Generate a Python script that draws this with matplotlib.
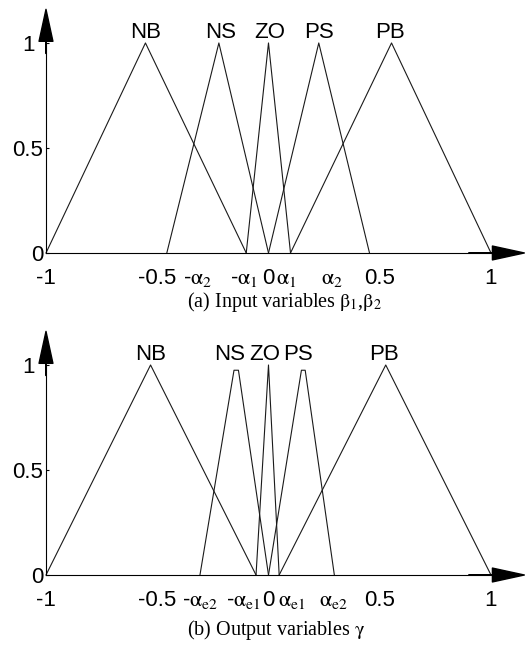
import matplotlib
matplotlib.use("Agg")
import matplotlib.pyplot as plt
from matplotlib.transforms import ScaledTranslation

plt.rcParams["font.family"] = ["Liberation Sans", "DejaVu Sans"]
plt.rcParams["mathtext.fontset"] = "stix"

SETS = ["NB", "NS", "ZO", "PS", "PB"]

# (a) input membership functions: breakpoints and memberships
IN_X = [[-1.0, -0.553, -0.10],
        [-0.457, -0.223, 0.0],
        [-0.10, 0.0, 0.099],
        [0.0, 0.226, 0.454],
        [0.099, 0.553, 1.0]]
IN_Y = [[0, 1, 0], [0, 1, 0], [0, 1, 0], [0, 1, 0], [0, 1, 0]]
IN_TICKS = [-1, -0.5, -0.32, -0.11, 0, 0.078, 0.285, 0.5, 1]
IN_TICKLABELS = ["-1", "-0.5", r"-$\mathrm{\alpha_2}$", r"-$\mathrm{\alpha_1}$", "0",
                 r"$\mathrm{\alpha_1}$", r"$\mathrm{\alpha_2}$", "0.5", "1"]

# (b) output membership functions
OUT_X = [[-1.0, -0.53, -0.056],
         [-0.308, -0.155, -0.135, 0.0],
         [-0.056, 0.0, 0.048],
         [0.0, 0.148, 0.165, 0.296],
         [0.048, 0.527, 1.0]]
OUT_Y = [[0, 1, 0], [0, 0.975, 0.975, 0], [0, 1, 0], [0, 0.975, 0.975, 0], [0, 1, 0]]
OUT_TICKS = [-1, -0.5, -0.307, -0.112, 0, 0.105, 0.29, 0.5, 1]
OUT_TICKLABELS = ["-1", "-0.5", r"-$\mathrm{\alpha_{e2}}$", r"-$\mathrm{\alpha_{e1}}$", "0",
                  r"$\mathrm{\alpha_{e1}}$", r"$\mathrm{\alpha_{e2}}$", "0.5", "1"]


def panel(ax, xs, ys, ticks, ticklabels, name_x, caption, cap_x, cap_y):
    for x, y in zip(xs, ys):
        ax.plot(x, y, color="#1a1a1a", lw=0.8, clip_on=False)
    for n, x in zip(SETS, name_x):
        ax.text(x, 1.025, n, ha="center", va="baseline", fontsize=16)
    ax.set_xlim(-1, 1)
    ax.set_ylim(0, 1)
    for s in ("top", "right"):
        ax.spines[s].set_visible(False)
    for s in ("left", "bottom"):
        ax.spines[s].set_linewidth(0.8)
    ax.set_xticks(ticks)
    ax.set_xticklabels(ticklabels, fontsize=16)
    ax.set_xticks([-0.5, 0.5], minor=True)
    ax.tick_params(axis="x", which="major", length=0, pad=11)
    ax.tick_params(axis="x", which="minor", direction="in", length=3, width=0.8)
    ax.set_yticks([0, 0.5, 1])
    ax.set_yticklabels(["0", "0.5", "1"], fontsize=16)
    ax.tick_params(axis="y", direction="in", length=2, width=0.8, pad=2)
    # the "1" sits left of the arrow head
    top = ax.get_yticklabels()[-1]
    top.set_transform(top.get_transform() + ScaledTranslation(-6 / 72, 0, fig.dpi_scale_trans))
    # axis arrows
    ax.annotate("", xy=(1.075, 0), xytext=(0.95, 0), xycoords="axes fraction",
                arrowprops=dict(facecolor="black", edgecolor="black", width=0.2,
                                headwidth=10, headlength=23, shrink=0))
    ax.annotate("", xy=(0, 1.16), xytext=(0, 0.95), xycoords="axes fraction",
                arrowprops=dict(facecolor="black", edgecolor="black", width=0.2,
                                headwidth=10, headlength=23, shrink=0))
    ax.text(cap_x, cap_y, caption, transform=ax.transAxes, ha="center", va="center",
            fontsize=14.5, family=["Liberation Serif", "DejaVu Serif"])


fig = plt.figure(figsize=(5.28, 6.46), dpi=100)
ax1 = fig.add_axes([0.0871, 0.6084, 0.8428, 0.3251])
ax2 = fig.add_axes([0.0871, 0.1099, 0.8428, 0.3251])

panel(ax1, IN_X, IN_Y, IN_TICKS, IN_TICKLABELS,
      [-0.553, -0.215, 0.005, 0.225, 0.545],
      r"(a) Input variables $\mathrm{\beta_1}$,$\mathrm{\beta_2}$", 0.535, -0.235)
panel(ax2, OUT_X, OUT_Y, OUT_TICKS, OUT_TICKLABELS,
      [-0.53, -0.173, -0.015, 0.133, 0.52],
      r"(b) Output variables $\mathrm{\gamma}$", 0.517, -0.264)

fig.savefig("out.png", dpi=100)
